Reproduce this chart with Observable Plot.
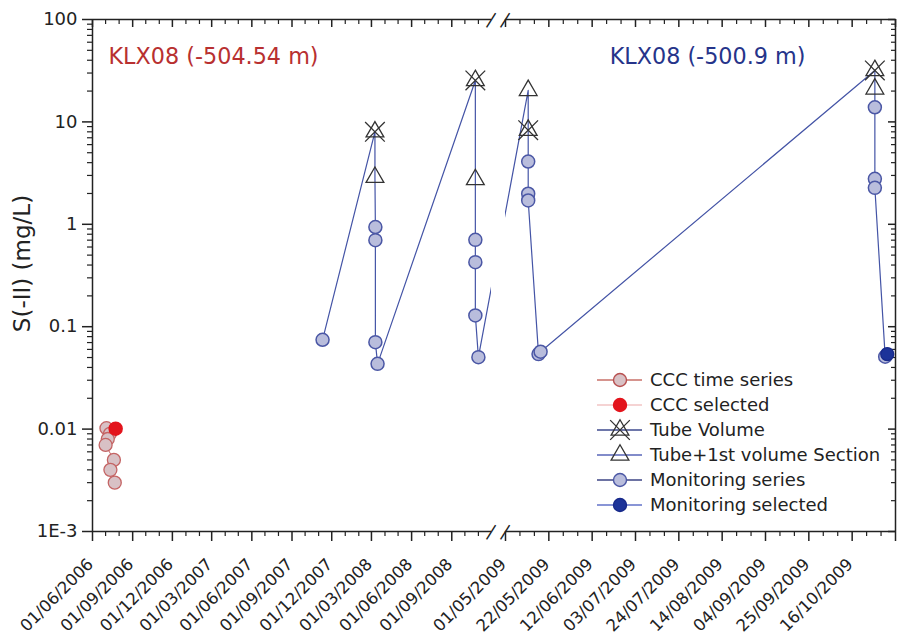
<!DOCTYPE html>
<html><head><meta charset="utf-8">
<script src="https://cdn.jsdelivr.net/npm/d3@7"></script>
<script src="https://cdn.jsdelivr.net/npm/@observablehq/plot@0.6"></script>
<style>
body{margin:0;background:#fff;font-family:"DejaVu Sans",sans-serif;}
#chart{position:relative;width:899px;height:639px;}
</style></head><body><div id="chart"></div>
<script>
// ---------- data ----------
const cccDates  = ["2006-07-03","2006-07-11","2006-07-06","2006-07-01","2006-07-20","2006-07-12","2006-07-22"];
const cccValues = [0.0102, 0.0090, 0.0080, 0.0070, 0.0050, 0.0040, 0.0030];
const cccSelectedDates  = ["2006-07-24"];
const cccSelectedValues = [0.0101];

const monDates = [
  "2007-11-10",
  "2008-03-09","2008-03-09","2008-03-10","2008-03-10","2008-03-10","2008-03-15",
  "2008-10-25","2008-10-25","2008-10-25","2008-10-25","2008-10-25","2008-11-01",
  "2009-05-12","2009-05-12","2009-05-12","2009-05-12","2009-05-12","2009-05-17","2009-05-18",
  "2009-10-27","2009-10-27","2009-10-27","2009-10-27","2009-10-27","2009-11-01","2009-11-02"
];
const monValues = [
  0.0745,
  8.0, 2.88, 0.94, 0.70, 0.0706, 0.0434,
  25.4, 2.74, 0.705, 0.427, 0.129, 0.0504,
  20.3, 8.3, 4.1, 1.99, 1.71, 0.054, 0.057,
  31.8, 21.0, 13.9, 2.78, 2.27, 0.051, 0.054
];
const monKinds = [
  "Monitoring series",
  "Tube Volume","Tube+1st volume Section","Monitoring series","Monitoring series","Monitoring series","Monitoring series",
  "Tube Volume","Tube+1st volume Section","Monitoring series","Monitoring series","Monitoring series","Monitoring series",
  "Tube+1st volume Section","Tube Volume","Monitoring series","Monitoring series","Monitoring series","Monitoring series","Monitoring series",
  "Tube Volume","Tube+1st volume Section","Monitoring series","Monitoring series","Monitoring series","Monitoring series","Monitoring selected"
];

// axis definitions
const xSegments = ["2006-06-01","2008-12-01","2009-05-01","2009-11-06"]; // left segment, break, right segment
const leftMajorTicks  = ["2006-06-01","2006-09-01","2006-12-01","2007-03-01","2007-06-01","2007-09-01","2007-12-01","2008-03-01","2008-06-01","2008-09-01"];
const rightMajorTicks = ["2009-05-01","2009-05-22","2009-06-12","2009-07-03","2009-07-24","2009-08-14","2009-09-04","2009-09-25","2009-10-16"];
const edgeTicks = ["2009-11-06"];
const yMajorTicks = [0.001, 0.01, 0.1, 1, 10, 100];
const yTickLabels = ["1E-3", "0.01", "0.1", "1", "10", "100"];
const yLabel = "S(-II) (mg/L)";
const titleLeft = "KLX08 (-504.54 m)";
const titleRight = "KLX08 (-500.9 m)";
const legendNames = ["CCC time series","CCC selected","Tube Volume","Tube+1st volume Section","Monitoring series","Monitoring selected"];

// ---------- build ----------
const parse = d3.utcParse("%Y-%m-%d");
const fmt = d3.utcFormat("%d/%m/%Y");
const xDom = xSegments.map(parse);
const ccc = cccDates.map((d, i) => ({date: parse(d), value: cccValues[i]}));
const cccSel = cccSelectedDates.map((d, i) => ({date: parse(d), value: cccSelectedValues[i]}));
const mon = monDates.map((d, i) => ({date: parse(d), value: monValues[i], kind: monKinds[i]}));

const leftMajor = leftMajorTicks.map(parse);
const rightMajor = rightMajorTicks.map(parse);
const labelled = leftMajor.concat(rightMajor);
const allMajor = labelled.concat(edgeTicks.map(parse));
const majorSet = new Set(allMajor.map(d => +d));
const minorX = d3.utcMonth.range(xDom[0], xDom[1])
  .concat(d3.utcDay.range(xDom[2], xDom[3], 7))
  .filter(d => !majorSet.has(+d));
const yMinor = [];
for (let e = -3; e < 2; e++) for (let m = 2; m <= 9; m++) yMinor.push(m * Math.pow(10, e));
const labelOf = new Map(yMajorTicks.map((v, i) => [v, yTickLabels[i]]));

const breaks = [{x1: xDom[1], x2: xDom[2]}];
const slashes = [
  {x: xDom[1], y: 100}, {x: xDom[2], y: 100},
  {x: xDom[1], y: 0.001}, {x: xDom[2], y: 0.001}
];

const ink = "#222";
const lineBlue = "#4454a6";
const monFill = "#b9bddc", monStroke = "#4b57a5";
const cccFill = "#d8c1c5", cccStroke = "#c46464";

const plotH = 531 - 19, plotW = 896 - 92;

const svg = Plot.plot({
  width: 899, height: 639,
  marginLeft: 92, marginRight: 3, marginTop: 19, marginBottom: 108,
  style: {fontFamily: "'DejaVu Sans', sans-serif", background: "white", color: ink, overflow: "visible"},
  x: {type: "utc", domain: xDom, range: [92, 491, 505, 895], axis: null},
  y: {type: "log", domain: [0.001, 100], axis: null},
  marks: [
    Plot.line(ccc, {x: "date", y: "value", stroke: cccStroke, strokeWidth: 1}),
    Plot.line(mon, {x: "date", y: "value", stroke: lineBlue, strokeWidth: 1.2}),
    Plot.rect(breaks, {x1: "x1", x2: "x2", fill: "white"}),
    // frame
    Plot.ruleX([xDom[0], xDom[3]], {stroke: ink, strokeWidth: 1.5}),
    Plot.ruleY([0.001, 100], {x1: xDom[0], x2: xDom[1], stroke: ink, strokeWidth: 1.5}),
    Plot.ruleY([0.001, 100], {x1: xDom[2], x2: xDom[3], stroke: ink, strokeWidth: 1.5}),
    // bottom ticks (outward)
    Plot.tickX(allMajor, {x: d => d, insetTop: plotH, insetBottom: -10, stroke: ink, strokeWidth: 1.5}),
    Plot.tickX(minorX, {x: d => d, insetTop: plotH, insetBottom: -5, stroke: ink, strokeWidth: 1.2}),
    // top ticks (inward)
    Plot.tickX(allMajor, {x: d => d, insetBottom: plotH - 8, stroke: ink, strokeWidth: 1.5}),
    Plot.tickX(minorX, {x: d => d, insetBottom: plotH - 5, stroke: ink, strokeWidth: 1.2}),
    // x labels
    Plot.text(labelled, {x: d => d, frameAnchor: "bottom", text: d => fmt(d), rotate: -45, textAnchor: "end",
      lineAnchor: "middle", dx: -2, dy: 30, fontSize: 16.5, fill: ink}),
    // y ticks left (outward)
    Plot.tickY(yMajorTicks, {y: d => d, insetRight: plotW, insetLeft: -10, stroke: ink, strokeWidth: 1.5}),
    Plot.tickY(yMinor, {y: d => d, insetRight: plotW, insetLeft: -5, stroke: ink, strokeWidth: 1.2}),
    Plot.text(yMajorTicks, {y: d => d, frameAnchor: "left", dx: -15, textAnchor: "end", text: d => labelOf.get(d), fontSize: 18, fill: ink}),
    // y ticks right (inward)
    Plot.tickY(yMajorTicks, {y: d => d, insetLeft: plotW - 8, stroke: ink, strokeWidth: 1.5}),
    Plot.tickY(yMinor, {y: d => d, insetLeft: plotW - 5, stroke: ink, strokeWidth: 1.2}),
    // points
    Plot.dot(ccc, {x: "date", y: "value", r: 6.5, fill: cccFill, stroke: cccStroke, strokeWidth: 1.3}),
    Plot.dot(cccSel, {x: "date", y: "value", r: 6.5, fill: "#e3141c", stroke: "#e3141c"}),
    Plot.dot(mon, {filter: d => d.kind === "Tube Volume", x: "date", y: "value", symbol: "times", r: 9, stroke: "#333", strokeWidth: 1.3}),
    Plot.dot(mon, {filter: d => d.kind === "Tube Volume" || d.kind === "Tube+1st volume Section", x: "date", y: "value",
      symbol: "triangle", r: 6.6, stroke: "#333", fill: "none", strokeWidth: 1.3}),
    Plot.dot(mon, {filter: d => d.kind === "Monitoring series", x: "date", y: "value", r: 6.5, fill: monFill, stroke: monStroke, strokeWidth: 1.5}),
    Plot.dot(mon, {filter: d => d.kind === "Monitoring selected", x: "date", y: "value", r: 6.5, fill: "#1c3399", stroke: "#17298a", strokeWidth: 1.3}),
    // axis break marks
    Plot.text(slashes, {x: "x", y: "y", text: () => "|", rotate: 32, fontSize: 17, fill: ink}),
    // annotations
    Plot.text([titleLeft], {frameAnchor: "top-left", dx: 16, dy: 29, textAnchor: "start", fontSize: 22.3, fill: "#b83030"}),
    Plot.text([titleRight], {frameAnchor: "top-right", dx: -91, dy: 29, textAnchor: "end", fontSize: 22.3, fill: "#26348a"}),
    Plot.text([yLabel], {frameAnchor: "left", dx: -70, dy: -12, rotate: -90, textAnchor: "middle", fontSize: 23, fill: ink})
  ]
});

// ---------- legend ----------
const legendStyle = {
  "CCC time series": {line: "#c87068", marker: "circle", fill: cccFill, stroke: "#b85050"},
  "CCC selected": {line: "#f2c4c4", marker: "circle", fill: "#e3141c", stroke: "#e3141c"},
  "Tube Volume": {line: "#3e4a8e", marker: "tube"},
  "Tube+1st volume Section": {line: "#5866b8", marker: "triangle"},
  "Monitoring series": {line: "#3d4585", marker: "circle", fill: monFill, stroke: monStroke},
  "Monitoring selected": {line: "#6272c8", marker: "circle", fill: "#1c3399", stroke: "#17298a"}
};
const lg = d3.select(svg).append("g").attr("font-family", "'DejaVu Sans', sans-serif").attr("text-anchor", "start");
legendNames.forEach((name, i) => {
  const s = legendStyle[name];
  const y = 380 + 25 * i;
  const g = lg.append("g").attr("transform", `translate(0,${y})`);
  g.append("line").attr("x1", 597).attr("x2", 642).attr("y1", 0).attr("y2", 0).attr("stroke", s.line).attr("stroke-width", 1.3);
  if (s.marker === "circle") {
    g.append("circle").attr("cx", 620).attr("cy", 0).attr("r", 6.5).attr("fill", s.fill).attr("stroke", s.stroke).attr("stroke-width", 1.4);
  } else {
    if (s.marker === "tube") {
      g.append("path").attr("transform", "translate(620,0)").attr("d", d3.symbol(d3.symbolTimes, Math.PI * 81)())
        .attr("stroke", "#333").attr("fill", "none").attr("stroke-width", 1.3);
    }
    g.append("path").attr("transform", "translate(620,0)").attr("d", d3.symbol(d3.symbolTriangle, Math.PI * 6.6 * 6.6)())
      .attr("stroke", "#333").attr("fill", "none").attr("stroke-width", 1.3);
  }
  g.append("text").attr("x", 650).attr("y", 0).attr("dy", "0.35em").attr("text-anchor", "start")
    .attr("font-size", 18).attr("fill", ink).text(name);
});

document.getElementById("chart").appendChild(svg);
</script>
</body></html>
